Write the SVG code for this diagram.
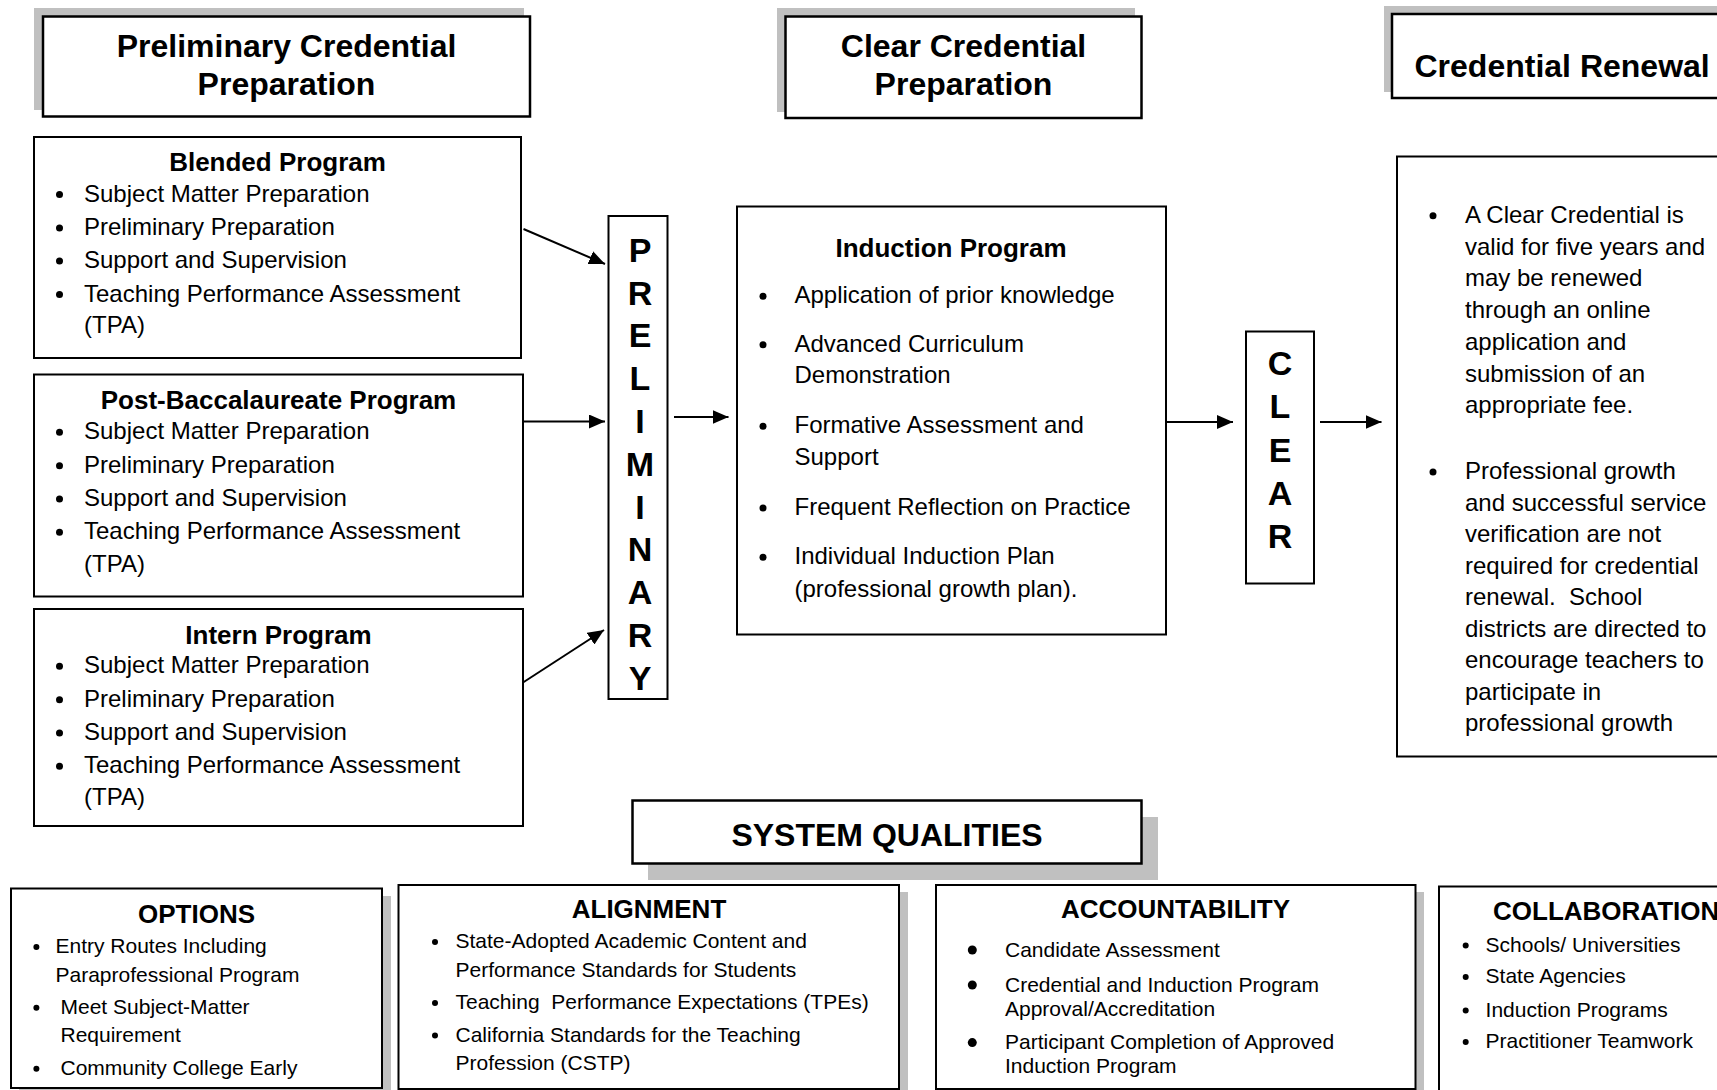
<svg xmlns="http://www.w3.org/2000/svg" width="1717" height="1090" viewBox="0 0 1717 1090">
<style>
  text { font-family: "Liberation Sans", Arial, sans-serif; fill: #000; }
  .h { font-size: 32px; font-weight: bold; text-anchor: middle; }
  .t { font-size: 26px; font-weight: bold; text-anchor: middle; }
  .b { font-size: 24px; }
  .s { font-size: 21px; }
  .v { font-size: 34px; font-weight: bold; text-anchor: middle; }
  .box { fill: #fff; stroke: #000; stroke-width: 2; }
  .hbox { fill: #fff; stroke: #000; stroke-width: 2.5; }
  .shadow { fill: #c0c0c0; stroke: none; }
  .con { stroke: #000; stroke-width: 2; fill: none; marker-end: url(#ah); }
  .pre { white-space: pre; }
</style>
<defs>
  <marker id="ah" markerUnits="userSpaceOnUse" markerWidth="16" markerHeight="14" refX="16" refY="7" orient="auto">
    <path d="M0,0 L16,7 L0,14 z" fill="#000"/>
  </marker>
  <circle id="dot" r="3.5" fill="#000"/>
  <circle id="sdot" r="3" fill="#000"/>
  <circle id="ldot" r="4.5" fill="#000"/>
</defs>
<rect width="1717" height="1090" fill="#fff"/>

<g id="hdr-preliminary">
  <rect class="shadow" x="34" y="8" width="490" height="102"/>
  <rect class="hbox" x="43" y="16.5" width="487" height="100"/>
  <text class="h" x="286.5" y="57">Preliminary Credential</text>
  <text class="h" x="286.5" y="95">Preparation</text>
</g>

<g id="hdr-clear">
  <rect class="shadow" x="777" y="8" width="358" height="104"/>
  <rect class="hbox" x="785.5" y="16.5" width="356" height="101.5"/>
  <text class="h" x="963.5" y="57">Clear Credential</text>
  <text class="h" x="963.5" y="95">Preparation</text>
</g>

<g id="hdr-renewal">
  <rect class="shadow" x="1384" y="6" width="340" height="86"/>
  <rect class="hbox" x="1392" y="14" width="340" height="84"/>
  <text class="h" x="1414.5" y="77" style="text-anchor:start">Credential Renewal</text>
</g>

<g id="blended">
  <rect class="box" x="34" y="137" width="487" height="221"/>
  <text class="t" x="277.5" y="171">Blended Program</text>
  <use href="#dot" x="59.5" y="194.5"/><text class="b" x="84" y="201.7">Subject Matter Preparation</text>
  <use href="#dot" x="59.5" y="228"/><text class="b" x="84" y="235">Preliminary Preparation</text>
  <use href="#dot" x="59.5" y="261"/><text class="b" x="84" y="268">Support and Supervision</text>
  <use href="#dot" x="59.5" y="294.5"/><text class="b" x="84" y="301.7">Teaching Performance Assessment</text>
  <text class="b" x="84" y="333">(TPA)</text>
</g>

<g id="postbacc">
  <rect class="box" x="34" y="374.5" width="489" height="222"/>
  <text class="t" x="278.5" y="409">Post-Baccalaureate Program</text>
  <use href="#dot" x="59.5" y="432.3"/><text class="b" x="84" y="439.3">Subject Matter Preparation</text>
  <use href="#dot" x="59.5" y="465.7"/><text class="b" x="84" y="472.7">Preliminary Preparation</text>
  <use href="#dot" x="59.5" y="499"/><text class="b" x="84" y="506">Support and Supervision</text>
  <use href="#dot" x="59.5" y="532.3"/><text class="b" x="84" y="539.3">Teaching Performance Assessment</text>
  <text class="b" x="84" y="571.7">(TPA)</text>
</g>

<g id="intern">
  <rect class="box" x="34" y="609" width="489" height="217"/>
  <text class="t" x="278.5" y="644.3">Intern Program</text>
  <use href="#dot" x="59.5" y="666.3"/><text class="b" x="84" y="673.3">Subject Matter Preparation</text>
  <use href="#dot" x="59.5" y="699.7"/><text class="b" x="84" y="706.7">Preliminary Preparation</text>
  <use href="#dot" x="59.5" y="733"/><text class="b" x="84" y="740">Support and Supervision</text>
  <use href="#dot" x="59.5" y="766.3"/><text class="b" x="84" y="773.3">Teaching Performance Assessment</text>
  <text class="b" x="84" y="805">(TPA)</text>
</g>

<g id="preliminary">
  <rect class="box" x="608.5" y="216" width="59" height="483"/>
  <text class="v" x="640" y="261.7">P</text>
  <text class="v" x="640" y="304.5">R</text>
  <text class="v" x="640" y="347.3">E</text>
  <text class="v" x="640" y="390.1">L</text>
  <text class="v" x="640" y="432.9">I</text>
  <text class="v" x="640" y="475.7">M</text>
  <text class="v" x="640" y="518.5">I</text>
  <text class="v" x="640" y="561.3">N</text>
  <text class="v" x="640" y="604.1">A</text>
  <text class="v" x="640" y="646.9">R</text>
  <text class="v" x="640" y="689.7">Y</text>
</g>

<g id="induction">
  <rect class="box" x="737" y="206.5" width="429" height="428"/>
  <text class="t" x="951" y="256.7">Induction Program</text>
  <use href="#dot" x="763" y="296.3"/><text class="b" x="794.5" y="303.3">Application of prior knowledge</text>
  <use href="#dot" x="763" y="344.7"/><text class="b" x="794.5" y="351.7">Advanced Curriculum</text>
  <text class="b" x="794.5" y="383.3">Demonstration</text>
  <use href="#dot" x="763" y="426.3"/><text class="b" x="794.5" y="433.3">Formative Assessment and</text>
  <text class="b" x="794.5" y="465">Support</text>
  <use href="#dot" x="763" y="508"/><text class="b" x="794.5" y="515">Frequent Reflection on Practice</text>
  <use href="#dot" x="763" y="557.3"/><text class="b" x="794.5" y="564.3">Individual Induction Plan</text>
  <text class="b" x="794.5" y="596.7">(professional growth plan).</text>
</g>

<g id="clear">
  <rect class="box" x="1246" y="331.5" width="68" height="252"/>
  <text class="v" x="1280" y="375">C</text>
  <text class="v" x="1280" y="418.3">L</text>
  <text class="v" x="1280" y="461.6">E</text>
  <text class="v" x="1280" y="504.9">A</text>
  <text class="v" x="1280" y="548.2">R</text>
</g>

<g id="renewal">
  <rect class="box" x="1397" y="156.5" width="340" height="600"/>
  <use href="#dot" x="1433" y="215.7"/>
  <text class="b" x="1465" y="222.7">A Clear Credential is</text>
  <text class="b" x="1465" y="254.5">valid for five years and</text>
  <text class="b" x="1465" y="286.3">may be renewed</text>
  <text class="b" x="1465" y="318">through an online</text>
  <text class="b" x="1465" y="349.8">application and</text>
  <text class="b" x="1465" y="381.5">submission of an</text>
  <text class="b" x="1465" y="413.2">appropriate fee.</text>
  <use href="#dot" x="1433" y="472"/>
  <text class="b" x="1465" y="479">Professional growth</text>
  <text class="b" x="1465" y="510.5">and successful service</text>
  <text class="b" x="1465" y="542">verification are not</text>
  <text class="b" x="1465" y="573.5">required for credential</text>
  <text class="b pre" x="1465" y="605">renewal.  School</text>
  <text class="b" x="1465" y="636.5">districts are directed to</text>
  <text class="b" x="1465" y="668">encourage teachers to</text>
  <text class="b" x="1465" y="699.5">participate in</text>
  <text class="b" x="1465" y="731">professional growth</text>
</g>

<g id="system-qualities">
  <rect class="shadow" x="648" y="817" width="510" height="63"/>
  <rect class="hbox" x="632.5" y="800.5" width="509" height="63"/>
  <text class="h" x="887" y="846">SYSTEM QUALITIES</text>
</g>

<g id="options">
  <rect class="shadow" x="19" y="896" width="372" height="200"/>
  <rect class="box" x="11" y="888.5" width="371" height="199.5"/>
  <text class="t" x="196.5" y="923.3">OPTIONS</text>
  <use href="#sdot" x="36.4" y="947"/><text class="s" x="55.5" y="953.3">Entry Routes Including</text>
  <text class="s" x="55.5" y="981.7">Paraprofessional Program</text>
  <use href="#sdot" x="36.4" y="1007.7"/><text class="s" x="60.5" y="1014">Meet Subject-Matter</text>
  <text class="s" x="60.5" y="1042.3">Requirement</text>
  <use href="#sdot" x="36.4" y="1068.7"/><text class="s" x="60.5" y="1075">Community College Early</text>
</g>

<g id="alignment">
  <rect class="shadow" x="407" y="892" width="501" height="204"/>
  <rect class="box" x="398.5" y="885" width="500.5" height="204"/>
  <text class="t" x="649" y="918.3">ALIGNMENT</text>
  <use href="#sdot" x="435" y="942"/><text class="s" x="455.5" y="948.3">State-Adopted Academic Content and</text>
  <text class="s" x="455.5" y="976.7">Performance Standards for Students</text>
  <use href="#sdot" x="435" y="1003"/><text class="s pre" x="455.5" y="1009.3">Teaching  Performance Expectations (TPEs)</text>
  <use href="#sdot" x="435" y="1035.4"/><text class="s" x="455.5" y="1041.7">California Standards for the Teaching</text>
  <text class="s" x="455.5" y="1070">Profession (CSTP)</text>
</g>

<g id="accountability">
  <rect class="shadow" x="944" y="892" width="480" height="204"/>
  <rect class="box" x="936" y="885" width="479.5" height="204"/>
  <text class="t" x="1175.5" y="918.3">ACCOUNTABILITY</text>
  <use href="#ldot" x="972.3" y="950"/><text class="s" x="1005" y="956.7">Candidate Assessment</text>
  <use href="#ldot" x="972.3" y="985"/><text class="s" x="1005" y="991.7">Credential and Induction Program</text>
  <text class="s" x="1005" y="1016">Approval/Accreditation</text>
  <use href="#ldot" x="972.3" y="1042.6"/><text class="s" x="1005" y="1049.3">Participant Completion of Approved</text>
  <text class="s" x="1005" y="1073.3">Induction Program</text>
</g>

<g id="collaboration">
  <rect class="box" x="1439" y="886.5" width="300" height="210"/>
  <text class="t" x="1493" y="920" style="text-anchor:start">COLLABORATION</text>
  <use href="#sdot" x="1465.7" y="945.4"/><text class="s" x="1485.6" y="951.7">Schools/ Universities</text>
  <use href="#sdot" x="1465.7" y="977"/><text class="s" x="1485.6" y="983.3">State Agencies</text>
  <use href="#sdot" x="1465.7" y="1010.4"/><text class="s" x="1485.6" y="1016.7">Induction Programs</text>
  <use href="#sdot" x="1465.7" y="1042"/><text class="s" x="1485.6" y="1048.3">Practitioner Teamwork</text>
</g>

<g id="connectors">
  <line class="con" x1="523.5" y1="229" x2="605" y2="264"/>
  <line class="con" x1="523" y1="421.5" x2="605" y2="421.5"/>
  <line class="con" x1="523" y1="682.5" x2="604" y2="630"/>
  <line class="con" x1="674" y1="417" x2="728.5" y2="417"/>
  <line class="con" x1="1167" y1="422" x2="1233" y2="422"/>
  <line class="con" x1="1320" y1="422" x2="1381.5" y2="422"/>
</g>
</svg>
